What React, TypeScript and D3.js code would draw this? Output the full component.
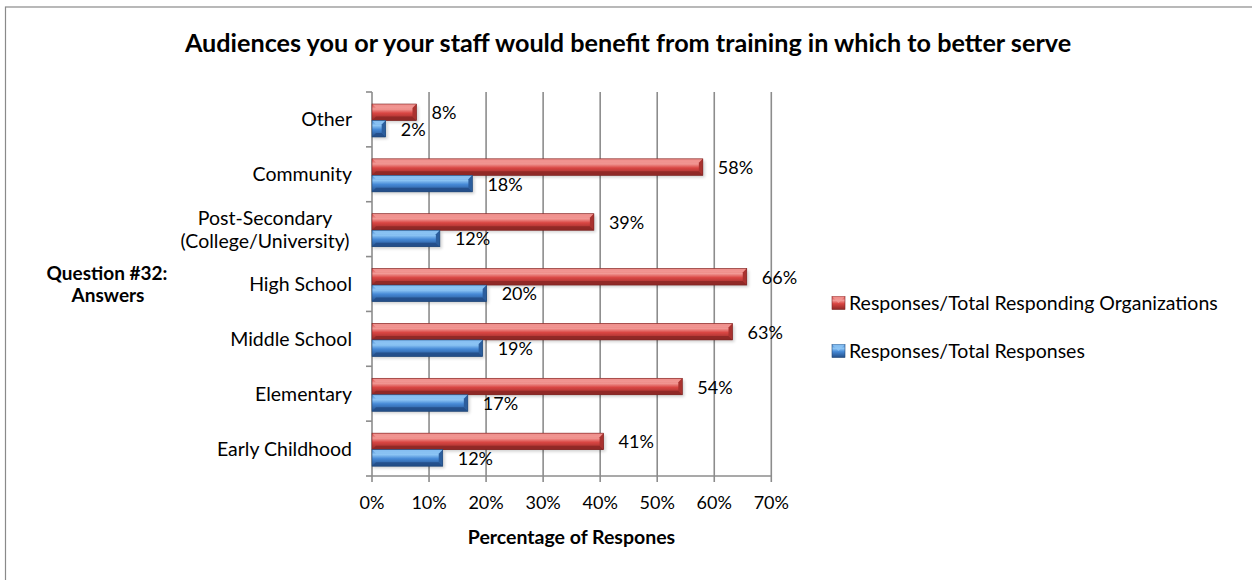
import React from "react";
import * as d3 from "d3";

// categories top to bottom, as drawn
const categories = [
    "Other",
    "Community",
    "Post-Secondary\n(College/University)",
    "High School",
    "Middle School",
    "Elementary",
    "Early Childhood",
];
const orgShare = [0.078, 0.58, 0.389, 0.657, 0.632, 0.544, 0.406];
const responseShare = [0.024, 0.176, 0.119, 0.201, 0.194, 0.168, 0.124];
const xTicks = [0, 0.1, 0.2, 0.3, 0.4, 0.5, 0.6, 0.7];
const seriesNames = ["Responses/Total Responding Organizations", "Responses/Total Responses"];

const FONT = "Lato, 'Open Sans', sans-serif";
const W = 1252;
const H = 580;

type BarStyle = { id: string; top: string; face: string; bottom: string; right: string; edge: string };
const styles: BarStyle[] = [
    { id: "red", top: "#f29a96", face: "#d94643", bottom: "#8e2826", right: "#a9322f", edge: "#7a2322" },
    { id: "blue", top: "#8ec6f5", face: "#4689d6", bottom: "#234e88", right: "#2c5e9d", edge: "#1f4676" },
];

const Bar = ({ x0, x1, y0, h, s }: { x0: number; x1: number; y0: number; h: number; s: BarStyle }) => {
    const b = Math.min(4, (x1 - x0) / 2);
    const y1 = y0 + h;
    return <g>
        <rect x={x0 + 1} y={y0 + 2} width={x1 - x0 + 1} height={h} fill="#000" opacity={0.18} filter="url(#shadow)" />
        <rect x={x0} y={y0} width={x1 - x0} height={h} fill={`url(#grad-${s.id})`} />
        <polygon points={`${x0},${y0} ${x1},${y0} ${x1 - b},${y0 + b} ${x0 + b},${y0 + b}`} fill={s.top} opacity={0.85} />
        <polygon points={`${x0},${y1} ${x1},${y1} ${x1 - b},${y1 - b} ${x0 + b},${y1 - b}`} fill={s.bottom} opacity={0.9} />
        <polygon points={`${x1},${y0} ${x1},${y1} ${x1 - b},${y1 - b} ${x1 - b},${y0 + b}`} fill={s.right} />
        <rect x={x0} y={y0} width={x1 - x0} height={h} fill="none" stroke={s.edge} strokeWidth={0.6} />
    </g>;
};

export default function App() {
    const x = d3.scaleLinear().domain([0, 0.7]).range([372, 771.3]);
    const y = d3.scaleBand<string>().domain(categories).range([92, 476]);
    const barH = 16.5;
    const top = y.range()[0];
    const bottom = y.range()[1];
    const bounds = categories.map(c => y(c) as number).concat([bottom]);

    return <div style={{ position: "absolute", left: 0, top: 0 }}>
        <svg width={W} height={H} style={{ display: "block", background: "#fff" }}>
            <defs>
                {styles.map(s => (
                    <linearGradient key={s.id} id={`grad-${s.id}`} x1="0" y1="0" x2="0" y2="1">
                        <stop offset="0" stopColor={s.face} />
                        <stop offset="0.3" stopColor={s.top} />
                        <stop offset="0.55" stopColor={s.face} />
                        <stop offset="1" stopColor={s.bottom} />
                    </linearGradient>
                ))}
                <filter id="shadow" x="-10%" y="-50%" width="120%" height="200%">
                    <feGaussianBlur stdDeviation="1.5" />
                </filter>
            </defs>

            <rect x={5.5} y={7} width={1400} height={800} fill="none" stroke="#8a8a8a" strokeWidth={1.2} />

            <text x={628} y={52} textAnchor="middle" fontFamily={FONT} fontWeight="bold" fontSize={25.2} fill="#000">
                Audiences you or your staff would benefit from training in which to better serve
            </text>

            {/* gridlines */}
            {xTicks.slice(1).map(t => (
                <line key={t} x1={x(t)} x2={x(t)} y1={top} y2={bottom} stroke="#8c8c8c" strokeWidth={1.6} />
            ))}

            {/* axes */}
            <line x1={x(0)} x2={x(0)} y1={top} y2={bottom} stroke="#8c8c8c" strokeWidth={1.6} />
            <line x1={x(0)} x2={x(0.7)} y1={bottom} y2={bottom} stroke="#8c8c8c" strokeWidth={1.6} />
            {xTicks.map(t => (
                <line key={"xt" + t} x1={x(t)} x2={x(t)} y1={bottom} y2={bottom + 6} stroke="#8c8c8c" strokeWidth={1.6} />
            ))}
            {bounds.map((b, i) => (
                <line key={"yt" + i} x1={x(0) - 6} x2={x(0)} y1={b} y2={b} stroke="#8c8c8c" strokeWidth={1.6} />
            ))}

            {/* bars */}
            {categories.map((c, i) => {
                const b0 = y(c) as number;
                return <g key={c}>
                    <Bar x0={x(0)} x1={x(orgShare[i])} y0={b0 + 12} h={barH} s={styles[0]} />
                    <Bar x0={x(0)} x1={x(responseShare[i])} y0={b0 + 12 + barH} h={barH} s={styles[1]} />
                </g>;
            })}

            {/* value labels */}
            {categories.map((c, i) => {
                const b0 = y(c) as number;
                return <g key={"l" + c} fontFamily={FONT} fontSize={18} fill="#000">
                    <text x={x(orgShare[i]) + 15} y={b0 + 12 + barH / 2 + 7}>{Math.round(orgShare[i] * 100)}%</text>
                    <text x={x(responseShare[i]) + 15} y={b0 + 12 + barH * 1.5 + 7}>{Math.round(responseShare[i] * 100)}%</text>
                </g>;
            })}

            {/* category labels */}
            {categories.map(c => {
                const lines = c.split("\n");
                const cy = (y(c) as number) + y.bandwidth() / 2;
                if (lines.length === 1) {
                    return <text key={"c" + c} x={352} y={cy + 7} textAnchor="end" fontFamily={FONT} fontSize={19.5} fill="#000">{c}</text>;
                }
                return <text key={"c" + c} x={265} y={cy - 4.5} textAnchor="middle" fontFamily={FONT} fontSize={19.5} fill="#000">
                    {lines.map((l, k) => <tspan key={k} x={265} dy={k === 0 ? 0 : 23.5}>{l}</tspan>)}
                </text>;
            })}

            {/* x tick labels */}
            {xTicks.map(t => (
                <text key={"xl" + t} x={x(t)} y={509} textAnchor="middle" fontFamily={FONT} fontSize={18} fill="#000">
                    {d3.format(".0%")(t)}
                </text>
            ))}

            <text x={571.5} y={544} textAnchor="middle" fontFamily={FONT} fontWeight="bold" fontSize={19.5} fill="#000">
                Percentage of Respones
            </text>

            <text x={107} y={280} textAnchor="middle" fontFamily={FONT} fontWeight="bold" fontSize={19} fill="#000">
                <tspan x={107}>Question #32:</tspan>
                <tspan x={108} dy={22}>Answers</tspan>
            </text>

            {/* legend */}
            {seriesNames.map((n, i) => {
                const ly = 303 + i * 48;
                const s = styles[i];
                return <g key={n}>
                    <rect x={832} y={ly - 6.5} width={13} height={13} fill={`url(#grad-${s.id})`} stroke={s.edge} strokeWidth={0.6} />
                    <polygon points={`${832},${ly - 6.5} ${845},${ly - 6.5} ${838.5},${ly}`} fill={s.top} opacity={0.8} />
                    <text x={849} y={ly + 7} fontFamily={FONT} fontSize={19.5} fill="#000">{n}</text>
                </g>;
            })}
        </svg>
    </div>;
}
